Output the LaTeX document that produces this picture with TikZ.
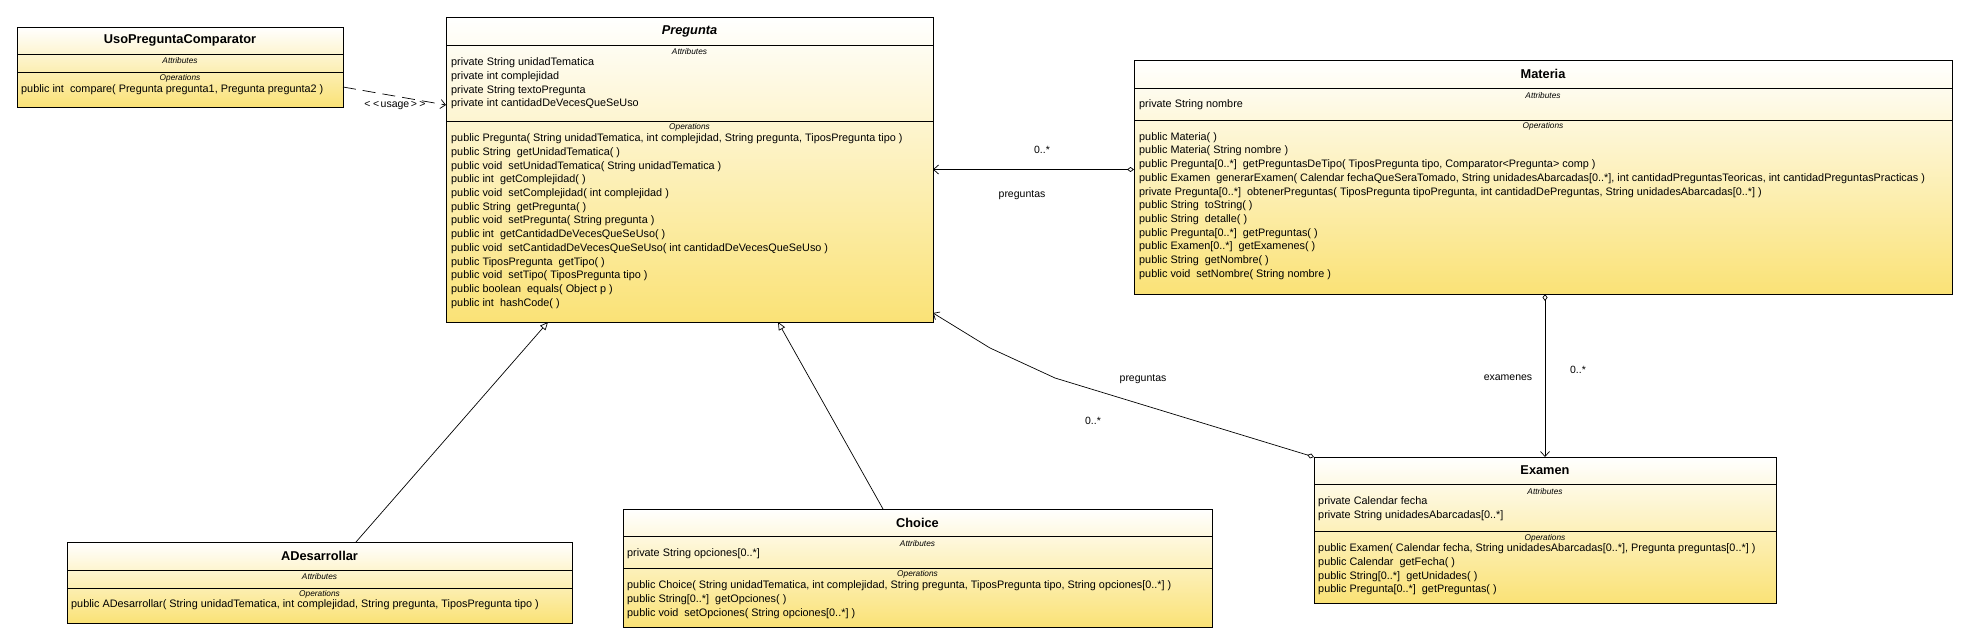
\documentclass[tikz,border=0pt]{standalone}
\usepackage{fontspec}
\setmainfont{Liberation Sans}
\usetikzlibrary{arrows.meta,calc}
\definecolor{umlgold}{RGB}{250,226,118}
\begin{document}
\begin{tikzpicture}[x=1pt,y=-1pt,
  classbox/.style={draw=black, line width=0.9pt, top color=white, bottom color=umlgold, inner sep=0pt, outer sep=0pt, anchor=north west},
  ctitle/.style={font=\bfseries\fontsize{12.8}{14}\selectfont, inner sep=0pt},
  comphead/.style={font=\itshape\fontsize{8.3}{9}\selectfont, inner sep=0pt},
  members/.style={anchor=north west, align=left, inner sep=0pt, font=\fontsize{10.85}{13.7}\selectfont},
  csep/.style={line width=0.7pt},
  lbl/.style={font=\fontsize{10.5}{12}\selectfont, inner sep=0pt},
  assoc/.style={line width=0.7pt, {Diamond[open,length=7pt,width=5pt]}-{Straight Barb[length=5pt,width=9pt]}},
  gen/.style={line width=0.7pt, -{Triangle[open,length=8pt,width=7pt]}},
  usage/.style={line width=0.7pt, dash pattern=on 13pt off 7pt, -{Straight Barb[length=5pt,width=9pt]}}
]
\useasboundingbox (0,0) rectangle (1967,644);

% ---------- UsoPreguntaComparator ----------
\node[classbox, minimum width=326pt, minimum height=80pt] (uso) at (17,27) {};
\draw[csep] (uso.west |- 0,54) -- (uso.east |- 0,54);
\draw[csep] (uso.west |- 0,72) -- (uso.east |- 0,72);
\node[ctitle] (uso-t) at (180,40.5) {UsoPreguntaComparator};
\node[comphead] (uso-ah) at (180,61) {Attributes};
\node[comphead] (uso-oh) at (180,78.5) {Operations};
\node[members] (uso-ops) at (21,83) {\strut public int~ compare( Pregunta pregunta1, Pregunta pregunta2 )};

% ---------- Pregunta ----------
\node[classbox, minimum width=487pt, minimum height=305pt] (preg) at (446,17) {};
\draw[csep] (preg.west |- 0,45) -- (preg.east |- 0,45);
\draw[csep] (preg.west |- 0,121) -- (preg.east |- 0,121);
\node[ctitle, font=\bfseries\itshape\fontsize{12.8}{14}\selectfont] (preg-t) at (689.5,31) {Pregunta};
\node[comphead] (preg-ah) at (689.5,52) {Attributes};
\node[members] (preg-attrs) at (451,56) {\strut private String unidadTematica\\private int complejidad\\private String textoPregunta\\private int cantidadDeVecesQueSeUso};
\node[comphead] (preg-oh) at (689.5,127.5) {Operations};
\node[members] (preg-ops) at (451,132) {\strut public Pregunta( String unidadTematica, int complejidad, String pregunta, TiposPregunta tipo )\\
public String~ getUnidadTematica( )\\
public void~ setUnidadTematica( String unidadTematica )\\
public int~ getComplejidad( )\\
public void~ setComplejidad( int complejidad )\\
public String~ getPregunta( )\\
public void~ setPregunta( String pregunta )\\
public int~ getCantidadDeVecesQueSeUso( )\\
public void~ setCantidadDeVecesQueSeUso( int cantidadDeVecesQueSeUso )\\
public TiposPregunta~ getTipo( )\\
public void~ setTipo( TiposPregunta tipo )\\
public boolean~ equals( Object p )\\
public int~ hashCode( )};

% ---------- Materia ----------
\node[classbox, minimum width=818pt, minimum height=234pt] (mat) at (1134,60) {};
\draw[csep] (mat.west |- 0,88) -- (mat.east |- 0,88);
\draw[csep] (mat.west |- 0,120) -- (mat.east |- 0,120);
\node[ctitle] (mat-t) at (1543,74) {Materia};
\node[comphead] (mat-ah) at (1543,96) {Attributes};
\node[members] (mat-attrs) at (1139,98) {\strut private String nombre};
\node[comphead] (mat-oh) at (1543,126.5) {Operations};
\node[members] (mat-ops) at (1139,130.5) {\strut public Materia( )\\
public Materia( String nombre )\\
public Pregunta[0..*]~ getPreguntasDeTipo( TiposPregunta tipo, Comparator<Pregunta> comp )\\
public Examen~ generarExamen( Calendar fechaQueSeraTomado, String unidadesAbarcadas[0..*], int cantidadPreguntasTeoricas, int cantidadPreguntasPracticas )\\
private Pregunta[0..*]~ obtenerPreguntas( TiposPregunta tipoPregunta, int cantidadDePreguntas, String unidadesAbarcadas[0..*] )\\
public String~ toString( )\\
public String~ detalle( )\\
public Pregunta[0..*]~ getPreguntas( )\\
public Examen[0..*]~ getExamenes( )\\
public String~ getNombre( )\\
public void~ setNombre( String nombre )};

% ---------- Examen ----------
\node[classbox, minimum width=462pt, minimum height=146pt] (exa) at (1314,457) {};
\draw[csep] (exa.west |- 0,484) -- (exa.east |- 0,484);
\draw[csep] (exa.west |- 0,531) -- (exa.east |- 0,531);
\node[ctitle] (exa-t) at (1545,470.5) {Examen};
\node[comphead] (exa-ah) at (1545,491.5) {Attributes};
\node[members] (exa-attrs) at (1318,495) {\strut private Calendar fecha\\private String unidadesAbarcadas[0..*]};
\node[comphead] (exa-oh) at (1545,538) {Operations};
\node[members] (exa-ops) at (1318,542) {\strut public Examen( Calendar fecha, String unidadesAbarcadas[0..*], Pregunta preguntas[0..*] )\\
public Calendar~ getFecha( )\\
public String[0..*]~ getUnidades( )\\
public Pregunta[0..*]~ getPreguntas( )};

% ---------- Choice ----------
\node[classbox, minimum width=589pt, minimum height=118pt] (cho) at (623,509) {};
\draw[csep] (cho.west |- 0,536) -- (cho.east |- 0,536);
\draw[csep] (cho.west |- 0,568) -- (cho.east |- 0,568);
\node[ctitle] (cho-t) at (917.5,522.5) {Choice};
\node[comphead] (cho-ah) at (917.5,543.5) {Attributes};
\node[members] (cho-attrs) at (627,547) {\strut private String opciones[0..*]};
\node[comphead] (cho-oh) at (917.5,574.5) {Operations};
\node[members] (cho-ops) at (627,579) {\strut public Choice( String unidadTematica, int complejidad, String pregunta, TiposPregunta tipo, String opciones[0..*] )\\
public String[0..*]~ getOpciones( )\\
public void~ setOpciones( String opciones[0..*] )};

% ---------- ADesarrollar ----------
\node[classbox, minimum width=505pt, minimum height=81pt] (ades) at (67,542) {};
\draw[csep] (ades.west |- 0,570) -- (ades.east |- 0,570);
\draw[csep] (ades.west |- 0,588) -- (ades.east |- 0,588);
\node[ctitle] (ades-t) at (319.5,556) {ADesarrollar};
\node[comphead] (ades-ah) at (319.5,577) {Attributes};
\node[comphead] (ades-oh) at (319.5,594) {Operations};
\node[members] (ades-ops) at (71,597.5) {\strut public ADesarrollar( String unidadTematica, int complejidad, String pregunta, TiposPregunta tipo )};

% ---------- connectors ----------
\draw[usage] ([yshift=-20pt]uso.east) -- ([yshift=64.5pt]preg.west);
\node[lbl] (usage-l) at (395,106) {<\hspace{2.5pt}<\hspace{1.5pt}usage\hspace{1.5pt}>\hspace{2.5pt}>};

\draw[assoc] (mat.west |- preg.east) -- (preg.east);
\node[lbl] (mp-m) at (1042,150) {0..*};
\node[lbl] (mp-r) at (1022,195) {preguntas};

\coordinate (eb1) at (1055,378);
\coordinate (eb2) at (990,348);
\draw[assoc] (exa.north west) -- (eb1) -- (eb2) -- ([yshift=9pt]preg.south east);
\node[lbl] (ep-r) at (1143,379) {preguntas};
\node[lbl] (ep-m) at (1093,421) {0..*};

\draw[assoc] (mat.south -| exa.north) -- (exa.north);
\node[lbl] (me-r) at (1508,378) {examenes};
\node[lbl] (me-m) at (1578,370) {0..*};

\draw[gen] ([xshift=36.5pt]ades.north) -- ([xshift=-141.5pt]preg.south);
\draw[gen] ([xshift=-34.5pt]cho.north) -- ([xshift=88.5pt]preg.south);
\end{tikzpicture}
\end{document}
